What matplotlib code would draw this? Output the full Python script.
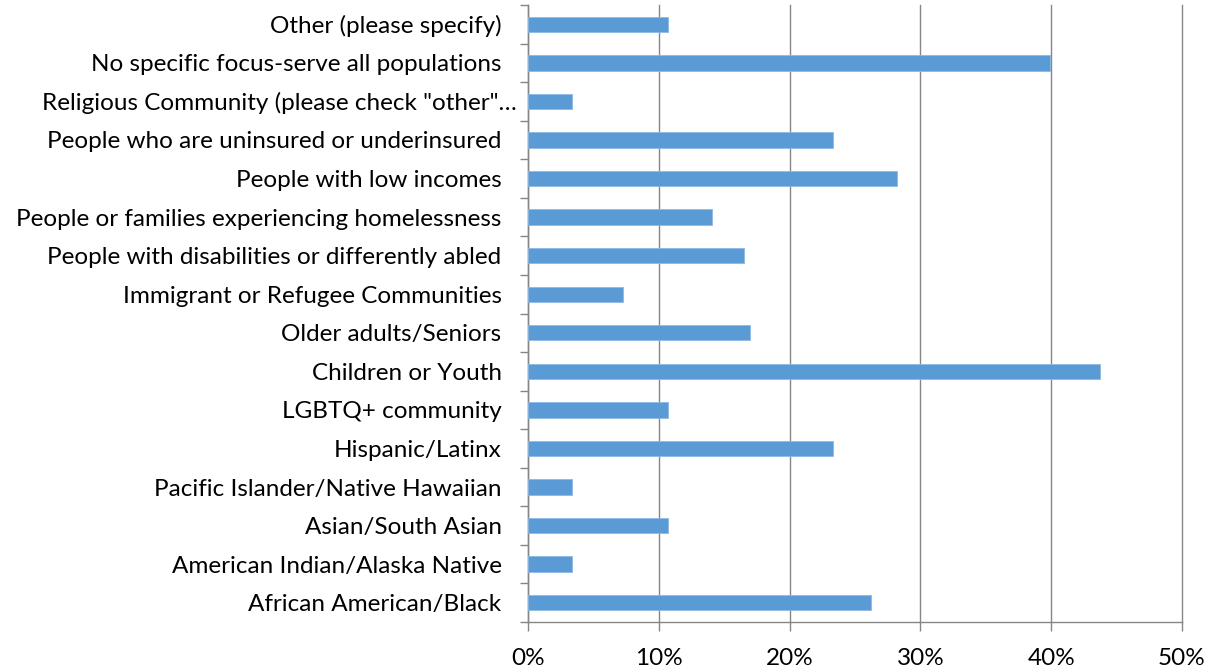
import matplotlib
matplotlib.use("Agg")
import matplotlib.pyplot as plt
import matplotlib.transforms as mtransforms
from matplotlib.ticker import FixedLocator, PercentFormatter
import numpy as np

categories = [
    "African American/Black",
    "American Indian/Alaska Native",
    "Asian/South Asian",
    "Pacific Islander/Native Hawaiian",
    "Hispanic/Latinx",
    "LGBTQ+ community",
    "Children or Youth",
    "Older adults/Seniors",
    "Immigrant or Refugee Communities",
    "People with disabilities or differently abled",
    "People or families experiencing homelessness",
    "People with low incomes",
    "People who are uninsured or underinsured",
    "Religious Community (please check \"other\"\u2026",
    "No specific focus-serve all populations",
    "Other (please specify)",
]
values = [26.2, 3.4, 10.7, 3.4, 23.3, 10.7, 43.7, 17.0, 7.3, 16.5, 14.1, 28.2, 23.3, 3.4, 39.9, 10.7]
x_ticks = [0, 10, 20, 30, 40, 50]

plt.rcParams['font.family'] = ['Lato', 'DejaVu Sans']

fig = plt.figure(figsize=(12.17, 6.72), dpi=100)
ax = fig.add_axes([528/1217, 1-622/672, (1182-528)/1217, (622-5)/672])

y = np.arange(len(categories))
ax.barh(y, values, height=0.4, color="#5B9BD5", edgecolor="#8DB9E3", linewidth=0.6, zorder=3)

ax.set_xlim(0, 50)
ax.set_ylim(-0.5, len(categories) - 0.5)
ax.xaxis.set_major_locator(FixedLocator(x_ticks))
ax.xaxis.set_major_formatter(PercentFormatter(decimals=0))
ax.grid(axis='x', color="#868686", linewidth=1.0, zorder=0)
for gl in ax.get_xgridlines():
    gl.set_clip_on(False)

ax.set_yticks(y)
ax.set_yticklabels(categories, fontsize=17.5)
ax.set_yticks(np.arange(-0.5, len(categories), 1.0), minor=True)
ax.tick_params(axis='y', which='major', length=0, pad=19)
ax.tick_params(axis='y', which='minor', length=6, color="#868686", width=1.0, direction='out')
ax.tick_params(axis='x', which='major', length=6.5, color="#868686", width=1.0, direction='out', labelsize=17.5, pad=12)

# the truncated label overflows slightly to the right, as in the reference
for lbl in ax.get_yticklabels():
    if lbl.get_text().endswith("\u2026"):
        lbl.set_transform(lbl.get_transform() + mtransforms.ScaledTranslation(15/100, 0, fig.dpi_scale_trans))

for s in ['top', 'right']:
    ax.spines[s].set_visible(False)
for s in ['left', 'bottom']:
    ax.spines[s].set_color("#868686")
    ax.spines[s].set_linewidth(1.0)

fig.savefig("out.png", dpi=100)
